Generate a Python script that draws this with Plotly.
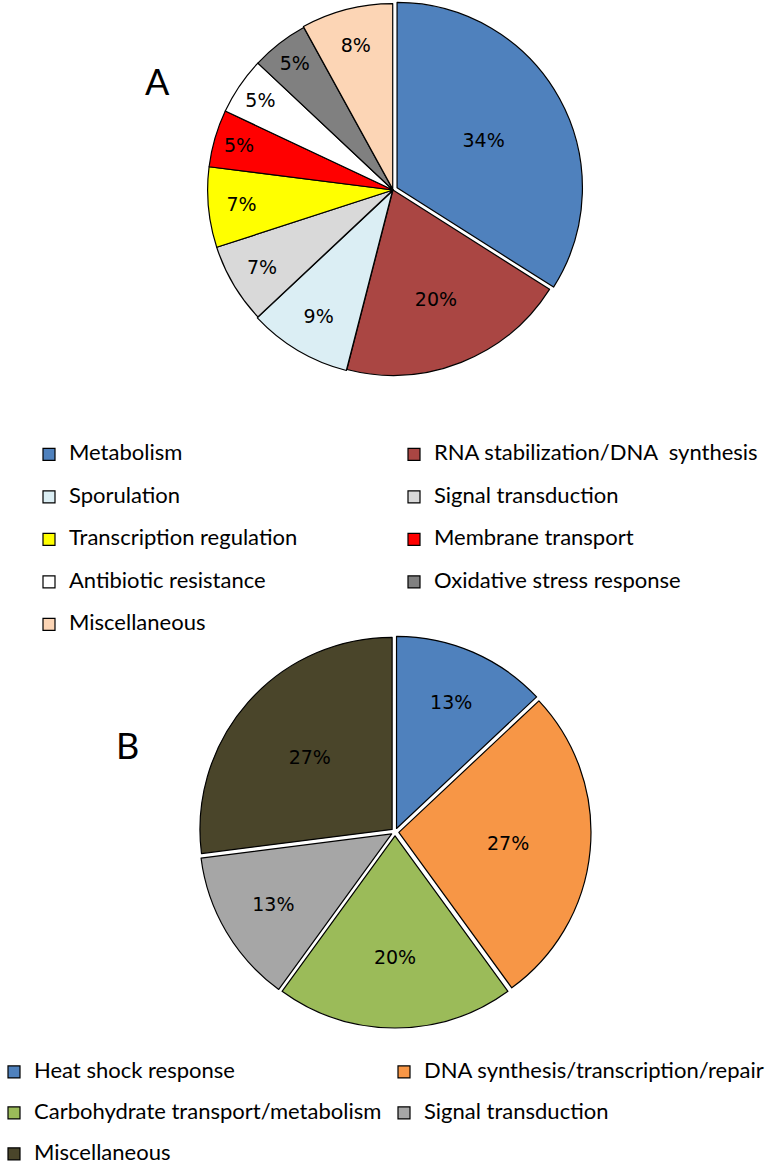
import plotly.graph_objects as go

W, H = 780, 1167
MB = 135            # bottom margin: legend B sits below the plot area
GW, GH = W, H - MB  # plot area size in px

# ---- Data ----
labels_a = ["Metabolism", "RNA stabilization/DNA\u00a0 synthesis", "Sporulation", "Signal transduction",
            "Transcription regulation", "Membrane transport", "Antibiotic resistance",
            "Oxidative stress response", "Miscellaneous"]
values_a = [34, 20, 9, 7, 7, 5, 5, 5, 8]
colors_a = ["#4F81BD", "#AA4643", "#DBEEF4", "#D9D9D9", "#FFFF00", "#FF0000", "#FFFFFF", "#808080", "#FCD5B5"]
pull_a = [0.025, 0, 0.006, 0, 0, 0, 0, 0, 0.006]

labels_b = ["Heat shock response", "DNA synthesis/transcription/repair", "Carbohydrate transport/metabolism",
            "Signal transduction", "Miscellaneous"]
values_b = [13, 27, 20, 13, 27]
colors_b = ["#4F81BD", "#F79646", "#9BBB59", "#A6A6A6", "#4A452A"]
pull_b = [0.02, 0.02, 0.02, 0.02, 0.02]

LEG_PX = 22


def leg_label_top(s):
    return '<span style="font-size:%dpx">%s</span><br>\u00a0' % (LEG_PX, s)


def leg_label_bottom(s):
    return '\u00a0<br><span style="font-size:%dpx">%s</span>' % (LEG_PX, s)


def dom_x(x0, x1):
    return [x0 / GW, x1 / GW]


def dom_y(top, bottom):
    return [1 - bottom / GH, 1 - top / GH]


pie_common = dict(sort=False, direction="clockwise", rotation=0,
                  textinfo="percent", texttemplate="%{percent:.0%}", textposition="inside",
                  insidetextorientation="horizontal",
                  textfont=dict(family="DejaVu Sans", size=19, color="black"),
                  hoverinfo="skip", showlegend=True)

fig = go.Figure()
fig.add_trace(go.Pie(
    labels=[leg_label_top(s) for s in labels_a], values=values_a, pull=pull_a,
    marker=dict(colors=colors_a, line=dict(color="black", width=1.2)),
    domain=dict(x=dom_x(393 - 190, 393 + 190), y=dom_y(0, 380)),
    legend="legend", **pie_common,
))
fig.add_trace(go.Pie(
    labels=[leg_label_bottom(s) for s in labels_b], values=values_b, pull=pull_b,
    marker=dict(colors=colors_b, line=dict(color="black", width=1.2)),
    domain=dict(x=dom_x(395 - 196, 395 + 196), y=dom_y(636, 1028)),
    legend="legend2", **pie_common,
))

leg_common = dict(orientation="h", xanchor="left", yanchor="top", entrywidthmode="pixels",
                  bgcolor="rgba(0,0,0,0)", traceorder="normal", itemwidth=30, borderwidth=0)

fig.update_layout(
    width=W, height=H, margin=dict(l=0, r=0, t=0, b=MB, pad=0, autoexpand=False),
    paper_bgcolor="white", plot_bgcolor="white",
    legend=dict(x=29 / GW, y=1 - 438 / GH, entrywidth=320, valign="top",
                font=dict(family="Lato", size=15.2, color="black"), **leg_common),
    legend2=dict(x=-6 / GW, y=1 - 1037 / GH, entrywidth=345, valign="bottom",
                 font=dict(family="Lato", size=14.6, color="black"), **leg_common),
    annotations=[
        dict(text="A", x=157 / GW, y=1 - 81 / GH, xref="paper", yref="paper", showarrow=False,
             xanchor="center", yanchor="middle",
             font=dict(family="Lato", size=36, color="black")),
        dict(text="B", x=127 / GW, y=1 - 745 / GH, xref="paper", yref="paper", showarrow=False,
             xanchor="center", yanchor="middle",
             font=dict(family="Lato", size=36, color="black")),
    ],
)

fig.write_html("out.html", config={"displayModeBar": False},
               post_script="document.body.style.margin='0px';")
